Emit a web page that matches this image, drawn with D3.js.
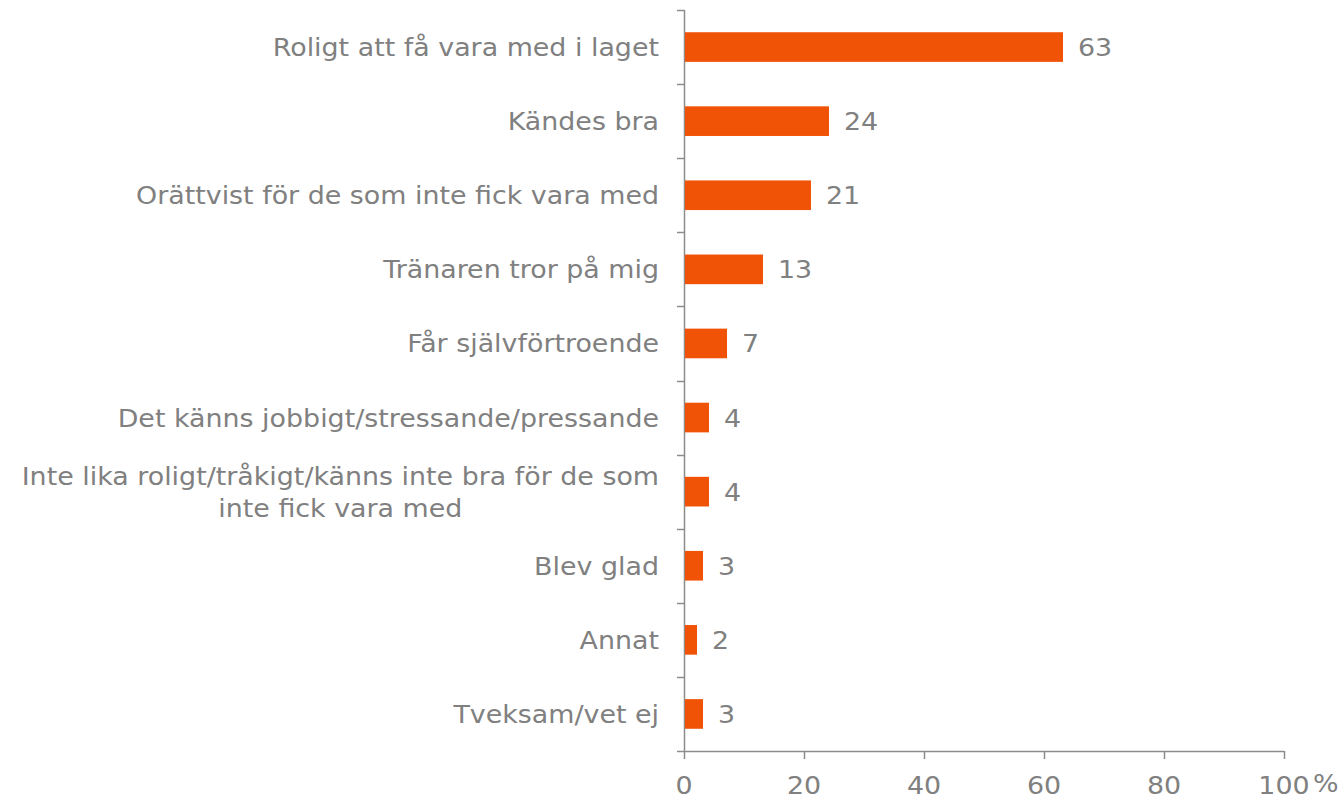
<!DOCTYPE html>
<html><head><meta charset="utf-8">
<script src="https://cdn.jsdelivr.net/npm/d3@7"></script>
<style>body{margin:0;background:#fff;}svg{display:block;}</style>
</head><body>
<svg id="c" width="1344" height="799"></svg>
<script>
const categories = [
  "Roligt att få vara med i laget",
  "Kändes bra",
  "Orättvist för de som inte fick vara med",
  "Tränaren tror på mig",
  "Får självförtroende",
  "Det känns jobbigt/stressande/pressande",
  "Inte lika roligt/tråkigt/känns inte bra för de som|inte fick vara med",
  "Blev glad",
  "Annat",
  "Tveksam/vet ej"
];
const values = [63, 24, 21, 13, 7, 4, 4, 3, 2, 3];
const xTicks = [0, 20, 40, 60, 80, 100];

const font = "Verdana, 'DejaVu Sans', sans-serif";
const textColor = "#808080";
const axisColor = "#8c8c8c";
const barColor = "#f05206";
const fs = 24;
const sx = 1.12;

const svg = d3.select("#c");
const x = d3.scaleLinear().domain([0, 100]).range([684, 1284]);
const y = d3.scaleBand().domain(d3.range(categories.length)).range([10, 751]).paddingInner(0.6).paddingOuter(0.3);
const yLines = d3.scaleLinear().domain([0, categories.length]).range([10, 751]);

function label(parent, px, py, anchor, s) {
  return parent.append("text")
    .attr("transform", `translate(${px},${py}) scale(${sx},1)`)
    .attr("text-anchor", anchor)
    .attr("font-family", font).attr("font-size", fs).attr("fill", textColor)
    .text(s);
}

const g = svg.append("g");
g.append("line").attr("x1", 684.5).attr("x2", 684.5).attr("y1", yLines(0)).attr("y2", yLines(categories.length))
  .attr("stroke", axisColor).attr("stroke-width", 1.5);
d3.range(categories.length + 1).forEach(i => {
  g.append("line").attr("x1", 677).attr("x2", 684.5).attr("y1", Math.round(yLines(i)) + 0.5).attr("y2", Math.round(yLines(i)) + 0.5)
    .attr("stroke", axisColor).attr("stroke-width", 1.5);
});
g.append("line").attr("x1", x(0)).attr("x2", x(100)).attr("y1", 751.5).attr("y2", 751.5)
  .attr("stroke", axisColor).attr("stroke-width", 1.5);
xTicks.forEach(t => {
  g.append("line").attr("x1", Math.round(x(t)) + 0.5).attr("x2", Math.round(x(t)) + 0.5).attr("y1", 751).attr("y2", 759)
    .attr("stroke", axisColor).attr("stroke-width", 1.5);
  label(g, x(t), 794, "middle", t);
});
label(g, 1313, 792, "start", "%");

svg.selectAll("rect.bar").data(values).join("rect").attr("class", "bar")
  .attr("x", x(0) + 1).attr("y", (d, i) => y(i)).attr("height", y.bandwidth())
  .attr("width", d => x(d) - x(0)).attr("fill", barColor);

values.forEach((v, i) => {
  label(svg, x(v) + 16, y(i) + y.bandwidth() / 2 + 9, "start", v);
});

categories.forEach((c, i) => {
  const cy = y(i) + y.bandwidth() / 2;
  const parts = c.split("|");
  if (parts.length === 1) {
    label(svg, 659, cy + 9, "end", c);
  } else {
    const t1 = label(svg, 659, cy - 7, "end", parts[0]);
    const w = t1.node().getComputedTextLength() * sx;
    label(svg, 659 - w / 2, cy + 25, "middle", parts[1]);
  }
});
</script>
</body></html>
